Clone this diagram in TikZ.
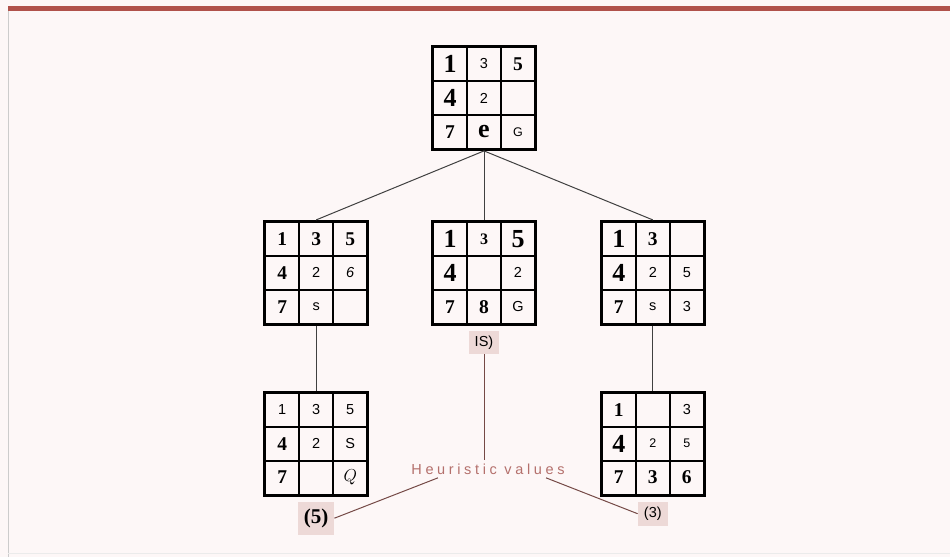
\documentclass[tikz,border=0pt]{standalone}
\usepackage{fontspec}
\setmainfont{Liberation Serif}
\setsansfont{Liberation Sans}
\newfontfamily\espacada[LetterSpace=25]{Liberation Sans}
\usepackage{xcolor}
\usetikzlibrary{matrix, positioning}

\definecolor{fundo}{HTML}{FDF7F7}
\definecolor{faixa}{HTML}{B0524B}
\definecolor{rotulo}{HTML}{B4706C}
\definecolor{caixa}{HTML}{EDD9D7}

\newcommand{\gr}[1]{{\fontsize{26}{26}\selectfont\bfseries #1}}
\newcommand{\md}[1]{{\fontsize{19.5}{19.5}\selectfont\bfseries #1}}
\newcommand{\pb}[1]{{\fontsize{16}{16}\selectfont\bfseries #1}}
\newcommand{\pq}[1]{{\fontsize{14.5}{14.5}\selectfont\sffamily #1}}
\newcommand{\mn}[1]{{\fontsize{12.5}{12.5}\selectfont\sffamily #1}}

\begin{document}
\begin{tikzpicture}[
        x=1pt, y=-1pt,
        tabuleiro/.style={
            matrix of nodes,
            nodes in empty cells,
            column sep=-1.8pt,
            row sep=-1.8pt,
            draw,
            line width=2pt,
            inner sep=0pt,
            nodes={casa}
        },
        casa/.style={
            draw,
            line width=1.8pt,
            minimum size=34pt,
            inner sep=0pt,
            anchor=center
        },
        ligacao/.style={
            line width=1pt,
            draw=black!75
        },
        valor/.style={
            fill=caixa,
            inner sep=0pt,
            minimum width=30pt,
            minimum height=23pt
        },
        guia/.style={
            line width=1pt,
            draw=rotulo!65!black
        }
    ]

    \useasboundingbox (0,0) rectangle (950,557);
    \fill[fundo] (0,0) rectangle (950,557);
    \fill[faixa] (8,6) rectangle (950,11);
    \draw[black!20, line width=0.8pt] (8,11) -- (8,557);
    \draw[black!8, line width=0.8pt] (8,553) -- (950,553);

    \matrix (raiz) [tabuleiro] at (484,98) {
        \gr{1} & \pq{3} & \md{5} \\
        \gr{4} & \pq{2} &        \\
        \md{7} & \gr{e} & \mn{G} \\
    };

    \matrix (meio) [tabuleiro, below=69pt of raiz] {
        \gr{1} & \pb{3} & \gr{5} \\
        \gr{4} &        & \pq{2} \\
        \md{7} & \md{8} & \pq{G} \\
    };

    \matrix (esq) [tabuleiro, left=62pt of meio] {
        \md{1} & \md{3} & \md{5} \\
        \md{4} & \pq{2} & \pq{\itshape 6} \\
        \md{7} & \pq{s} &        \\
    };

    \matrix (dir) [tabuleiro, right=63pt of meio] {
        \gr{1} & \md{3} &        \\
        \gr{4} & \pq{2} & \pq{5} \\
        \md{7} & \pq{s} & \pq{3} \\
    };

    \matrix (folhaesq) [tabuleiro, below=65pt of esq] {
        \pq{1} & \pq{3} & \pq{5} \\
        \md{4} & \pq{2} & \pq{S} \\
        \md{7} &        & {\fontsize{17}{17}\selectfont$Q$} \\
    };

    \matrix (folhadir) [tabuleiro, below=65pt of dir] {
        \md{1} &        & \pq{3} \\
        \gr{4} & \mn{2} & \mn{5} \\
        \md{7} & \md{3} & \md{6} \\
    };

    \draw[ligacao] (raiz.south) -- (esq.north);
    \draw[ligacao] (raiz.south) -- (meio.north);
    \draw[ligacao] (raiz.south) -- (dir.north);
    \draw[ligacao] (esq.south) -- (folhaesq.north);
    \draw[ligacao] (dir.south) -- (folhadir.north);

    % valores heuristicos
    \node[valor, below=5pt of meio] (hmeio) {\pq{IS)}};
    \node[valor, minimum width=36pt, minimum height=33pt, below=5pt of folhaesq] (hesq) {\fontsize{21}{21}\selectfont\bfseries (5)};
    \node[valor, minimum height=24pt, below=5pt of folhadir] (hdir) {\pq{(3)}};

    \node[text=rotulo, font=\espacada\fontsize{14.5}{14.5}\selectfont] (legenda) at (488,469) {Heuristic values};

    \draw[guia] (hmeio.south) -- (hmeio.south |- legenda.north);
    \draw[guia] ([xshift=30pt]legenda.south west) -- (hesq.east);
    \draw[guia] ([xshift=-22pt]legenda.south east) -- (hdir.west);

\end{tikzpicture}
\end{document}
